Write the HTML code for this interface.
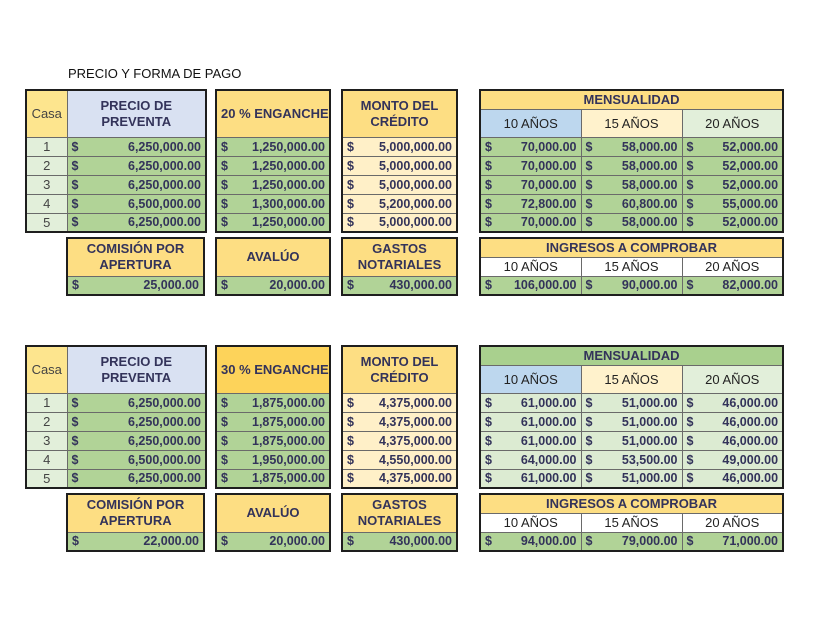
<!DOCTYPE html>
<html><head><meta charset="utf-8"><style>
body{margin:0;width:840px;height:630px;background:#fff;position:relative;font-family:"Liberation Sans",Arial,sans-serif;color:#33335a;overflow:hidden}
.t{position:absolute;left:68px;top:66px;font-size:13px;color:#111}
table{position:absolute;border-collapse:collapse;table-layout:fixed;border:2px solid #1e1e1e}
td{border:1px solid #6a6a6a;padding:0 4px;font-size:12.5px;white-space:nowrap;overflow:hidden;box-sizing:border-box}
.h{background:#fdde83;font-weight:bold;text-align:center;line-height:16px;font-size:13px}
.h2{background:#fdd35a;font-weight:bold;text-align:center;font-size:13px}
.hg{background:#a9d08e;font-weight:bold;text-align:center;font-size:13px}
.lav{background:#d9e1f2}
.c{background:#e2efda;text-align:center;font-size:13px;color:#444}
.cy{background:#fde58e;text-align:center;font-size:13px;color:#444}
.g{background:#b1d397;font-weight:bold}
.lg{background:#dcebd2;font-weight:bold}
.y{background:#fff0c8;font-weight:bold}
.g span,.lg span,.y span{float:left}
.g,.lg,.y{text-align:right}
.a{text-align:center;font-size:13px;color:#222}
.b10{background:#bdd7ee}.b15{background:#fff2cc}.b20{background:#e2efda}.w{background:#fff}
tr.r td{height:19px}
</style></head><body>
<div class="t">PRECIO Y FORMA DE PAGO</div>

<!-- SECTION 1 -->
<table style="left:25px;top:89px;width:180px"><colgroup><col style="width:41px"><col style="width:139px"></colgroup>
<tr><td class="cy" style="height:47px">Casa</td><td class="h lav">PRECIO DE<br>PREVENTA</td></tr>
<tr class="r"><td class="c">1</td><td class="g"><span>$</span>6,250,000.00</td></tr>
<tr class="r"><td class="c">2</td><td class="g"><span>$</span>6,250,000.00</td></tr>
<tr class="r"><td class="c">3</td><td class="g"><span>$</span>6,250,000.00</td></tr>
<tr class="r"><td class="c">4</td><td class="g"><span>$</span>6,500,000.00</td></tr>
<tr class="r"><td class="c">5</td><td class="g"><span>$</span>6,250,000.00</td></tr>
</table>
<table style="left:215px;top:89px;width:116px">
<tr><td class="h" style="height:47px">20 % ENGANCHE</td></tr>
<tr class="r"><td class="g"><span>$</span>1,250,000.00</td></tr>
<tr class="r"><td class="g"><span>$</span>1,250,000.00</td></tr>
<tr class="r"><td class="g"><span>$</span>1,250,000.00</td></tr>
<tr class="r"><td class="g"><span>$</span>1,300,000.00</td></tr>
<tr class="r"><td class="g"><span>$</span>1,250,000.00</td></tr>
</table>
<table style="left:341px;top:89px;width:117px">
<tr><td class="h" style="height:47px">MONTO DEL<br>CRÉDITO</td></tr>
<tr class="r"><td class="y"><span>$</span>5,000,000.00</td></tr>
<tr class="r"><td class="y"><span>$</span>5,000,000.00</td></tr>
<tr class="r"><td class="y"><span>$</span>5,000,000.00</td></tr>
<tr class="r"><td class="y"><span>$</span>5,200,000.00</td></tr>
<tr class="r"><td class="y"><span>$</span>5,000,000.00</td></tr>
</table>
<table style="left:479px;top:89px;width:303px"><colgroup><col style="width:101px"><col style="width:101px"><col style="width:101px"></colgroup>
<tr><td class="h" colspan="3" style="height:19px">MENSUALIDAD</td></tr>
<tr><td class="a b10" style="height:28px">10 AÑOS</td><td class="a b15">15 AÑOS</td><td class="a b20">20 AÑOS</td></tr>
<tr class="r"><td class="g"><span>$</span>70,000.00</td><td class="g"><span>$</span>58,000.00</td><td class="g"><span>$</span>52,000.00</td></tr>
<tr class="r"><td class="g"><span>$</span>70,000.00</td><td class="g"><span>$</span>58,000.00</td><td class="g"><span>$</span>52,000.00</td></tr>
<tr class="r"><td class="g"><span>$</span>70,000.00</td><td class="g"><span>$</span>58,000.00</td><td class="g"><span>$</span>52,000.00</td></tr>
<tr class="r"><td class="g"><span>$</span>72,800.00</td><td class="g"><span>$</span>60,800.00</td><td class="g"><span>$</span>55,000.00</td></tr>
<tr class="r"><td class="g"><span>$</span>70,000.00</td><td class="g"><span>$</span>58,000.00</td><td class="g"><span>$</span>52,000.00</td></tr>
</table>
<table style="left:66px;top:237px;width:139px">
<tr><td class="h" style="height:38px">COMISIÓN POR<br>APERTURA</td></tr>
<tr class="r"><td class="g"><span>$</span>25,000.00</td></tr></table>
<table style="left:215px;top:237px;width:116px">
<tr><td class="h" style="height:38px">AVALÚO</td></tr>
<tr class="r"><td class="g"><span>$</span>20,000.00</td></tr></table>
<table style="left:341px;top:237px;width:117px">
<tr><td class="h" style="height:38px">GASTOS<br>NOTARIALES</td></tr>
<tr class="r"><td class="g"><span>$</span>430,000.00</td></tr></table>
<table style="left:479px;top:237px;width:303px"><colgroup><col style="width:101px"><col style="width:101px"><col style="width:101px"></colgroup>
<tr><td class="h" colspan="3" style="height:19px">INGRESOS A COMPROBAR</td></tr>
<tr><td class="a w" style="height:19px">10 AÑOS</td><td class="a w">15 AÑOS</td><td class="a w">20 AÑOS</td></tr>
<tr class="r"><td class="g"><span>$</span>106,000.00</td><td class="g"><span>$</span>90,000.00</td><td class="g"><span>$</span>82,000.00</td></tr>
</table>

<!-- SECTION 2 -->
<table style="left:25px;top:345px;width:180px"><colgroup><col style="width:41px"><col style="width:139px"></colgroup>
<tr><td class="cy" style="height:47px">Casa</td><td class="h lav">PRECIO DE<br>PREVENTA</td></tr>
<tr class="r"><td class="c">1</td><td class="g"><span>$</span>6,250,000.00</td></tr>
<tr class="r"><td class="c">2</td><td class="g"><span>$</span>6,250,000.00</td></tr>
<tr class="r"><td class="c">3</td><td class="g"><span>$</span>6,250,000.00</td></tr>
<tr class="r"><td class="c">4</td><td class="g"><span>$</span>6,500,000.00</td></tr>
<tr class="r"><td class="c">5</td><td class="g"><span>$</span>6,250,000.00</td></tr>
</table>
<table style="left:215px;top:345px;width:116px">
<tr><td class="h2" style="height:47px">30 % ENGANCHE</td></tr>
<tr class="r"><td class="g"><span>$</span>1,875,000.00</td></tr>
<tr class="r"><td class="g"><span>$</span>1,875,000.00</td></tr>
<tr class="r"><td class="g"><span>$</span>1,875,000.00</td></tr>
<tr class="r"><td class="g"><span>$</span>1,950,000.00</td></tr>
<tr class="r"><td class="g"><span>$</span>1,875,000.00</td></tr>
</table>
<table style="left:341px;top:345px;width:117px">
<tr><td class="h" style="height:47px">MONTO DEL<br>CRÉDITO</td></tr>
<tr class="r"><td class="y"><span>$</span>4,375,000.00</td></tr>
<tr class="r"><td class="y"><span>$</span>4,375,000.00</td></tr>
<tr class="r"><td class="y"><span>$</span>4,375,000.00</td></tr>
<tr class="r"><td class="y"><span>$</span>4,550,000.00</td></tr>
<tr class="r"><td class="y"><span>$</span>4,375,000.00</td></tr>
</table>
<table style="left:479px;top:345px;width:303px"><colgroup><col style="width:101px"><col style="width:101px"><col style="width:101px"></colgroup>
<tr><td class="hg" colspan="3" style="height:19px">MENSUALIDAD</td></tr>
<tr><td class="a b10" style="height:28px">10 AÑOS</td><td class="a b15">15 AÑOS</td><td class="a b20">20 AÑOS</td></tr>
<tr class="r"><td class="lg"><span>$</span>61,000.00</td><td class="lg"><span>$</span>51,000.00</td><td class="lg"><span>$</span>46,000.00</td></tr>
<tr class="r"><td class="lg"><span>$</span>61,000.00</td><td class="lg"><span>$</span>51,000.00</td><td class="lg"><span>$</span>46,000.00</td></tr>
<tr class="r"><td class="lg"><span>$</span>61,000.00</td><td class="lg"><span>$</span>51,000.00</td><td class="lg"><span>$</span>46,000.00</td></tr>
<tr class="r"><td class="lg"><span>$</span>64,000.00</td><td class="lg"><span>$</span>53,500.00</td><td class="lg"><span>$</span>49,000.00</td></tr>
<tr class="r"><td class="lg"><span>$</span>61,000.00</td><td class="lg"><span>$</span>51,000.00</td><td class="lg"><span>$</span>46,000.00</td></tr>
</table>
<table style="left:66px;top:493px;width:139px">
<tr><td class="h" style="height:38px">COMISIÓN POR<br>APERTURA</td></tr>
<tr class="r"><td class="g"><span>$</span>22,000.00</td></tr></table>
<table style="left:215px;top:493px;width:116px">
<tr><td class="h" style="height:38px">AVALÚO</td></tr>
<tr class="r"><td class="g"><span>$</span>20,000.00</td></tr></table>
<table style="left:341px;top:493px;width:117px">
<tr><td class="h" style="height:38px">GASTOS<br>NOTARIALES</td></tr>
<tr class="r"><td class="g"><span>$</span>430,000.00</td></tr></table>
<table style="left:479px;top:493px;width:303px"><colgroup><col style="width:101px"><col style="width:101px"><col style="width:101px"></colgroup>
<tr><td class="h" colspan="3" style="height:19px">INGRESOS A COMPROBAR</td></tr>
<tr><td class="a w" style="height:19px">10 AÑOS</td><td class="a w">15 AÑOS</td><td class="a w">20 AÑOS</td></tr>
<tr class="r"><td class="g"><span>$</span>94,000.00</td><td class="g"><span>$</span>79,000.00</td><td class="g"><span>$</span>71,000.00</td></tr>
</table>
</body></html>
